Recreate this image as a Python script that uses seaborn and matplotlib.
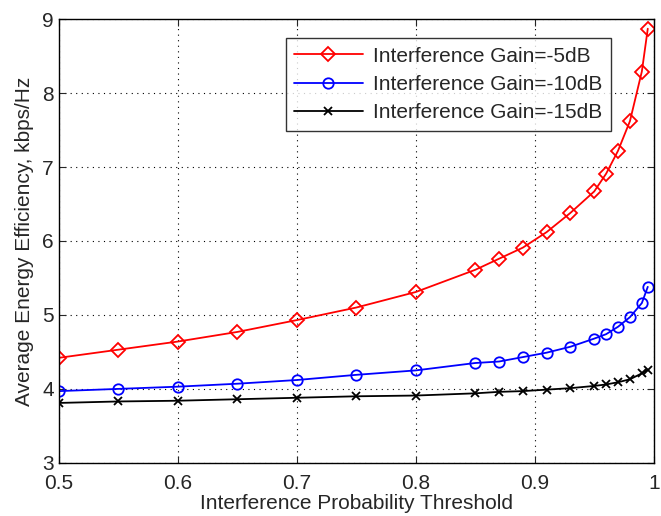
import matplotlib
matplotlib.use("Agg")
import matplotlib.pyplot as plt
import seaborn as sns
import pandas as pd

x_vals = [0.5, 0.55, 0.6, 0.65, 0.7, 0.75, 0.8, 0.85, 0.87, 0.89, 0.91, 0.93,
          0.95, 0.96, 0.97, 0.98, 0.99, 0.995]
gain_5dB = [4.42, 4.53, 4.64, 4.77, 4.93, 5.10, 5.31, 5.61, 5.76, 5.91, 6.12, 6.38,
            6.67, 6.91, 7.22, 7.62, 8.29, 8.87]
gain_10dB = [3.97, 4.00, 4.03, 4.07, 4.12, 4.19, 4.25, 4.35, 4.37, 4.43, 4.49, 4.57,
             4.68, 4.74, 4.84, 4.97, 5.16, 5.38]
gain_15dB = [3.81, 3.83, 3.84, 3.86, 3.88, 3.90, 3.91, 3.94, 3.96, 3.97, 3.99, 4.01,
             4.04, 4.06, 4.09, 4.13, 4.21, 4.26]
labels = ["Interference Gain=-5dB", "Interference Gain=-10dB", "Interference Gain=-15dB"]
colors = ["#ff0000", "#0000ff", "#000000"]
markers = ["D", "o", "x"]
msizes = [7.5, 7.5, 6]

sns.set_style("ticks")
plt.rcParams['font.family'] = ['Liberation Sans', 'DejaVu Sans']

fig = plt.figure(figsize=(6.61, 5.16), dpi=100)
ax = fig.add_axes([0.089, 0.103, 0.9, 0.86])

for series, lab, c, m, ms in zip([gain_5dB, gain_10dB, gain_15dB], labels, colors, markers, msizes):
    df = pd.DataFrame({"x": x_vals, "y": series})
    kw = dict(markerfacecolor="none", markeredgecolor=c) if m != "x" else dict(markeredgecolor=c)
    sns.lineplot(data=df, x="x", y="y", ax=ax, color=c, marker=m, markersize=ms,
                 markeredgewidth=1.3, linewidth=1.3, label=lab, **kw)

ax.set_xlim(0.5, 1.0)
ax.set_ylim(3, 9)
ax.set_xticks([0.5, 0.6, 0.7, 0.8, 0.9, 1.0])
ax.set_xticklabels(["0.5", "0.6", "0.7", "0.8", "0.9", "1"])
ax.set_yticks([3, 4, 5, 6, 7, 8, 9])
ax.grid(True, linestyle=(0, (1, 4)), color="black", linewidth=0.8)
ax.tick_params(direction="in", labelsize=15, top=True, right=True, length=5)
ax.tick_params(axis="x", pad=8)
for s in ax.spines.values():
    s.set_linewidth(1.0)
    s.set_color("black")
ax.set_xlabel("Interference Probability Threshold", fontsize=15, labelpad=1)
ax.set_ylabel("Average Energy Efficiency, kbps/Hz", fontsize=15, labelpad=6)
leg = ax.legend(loc="upper right", bbox_to_anchor=(0.928, 0.957), fontsize=15, frameon=True,
                fancybox=False, edgecolor="black", handlelength=3.3, borderpad=0.4,
                labelspacing=0.45, handletextpad=0.5, borderaxespad=0)
leg.get_frame().set_linewidth(1.0)
fig.savefig("out.png", dpi=100)
